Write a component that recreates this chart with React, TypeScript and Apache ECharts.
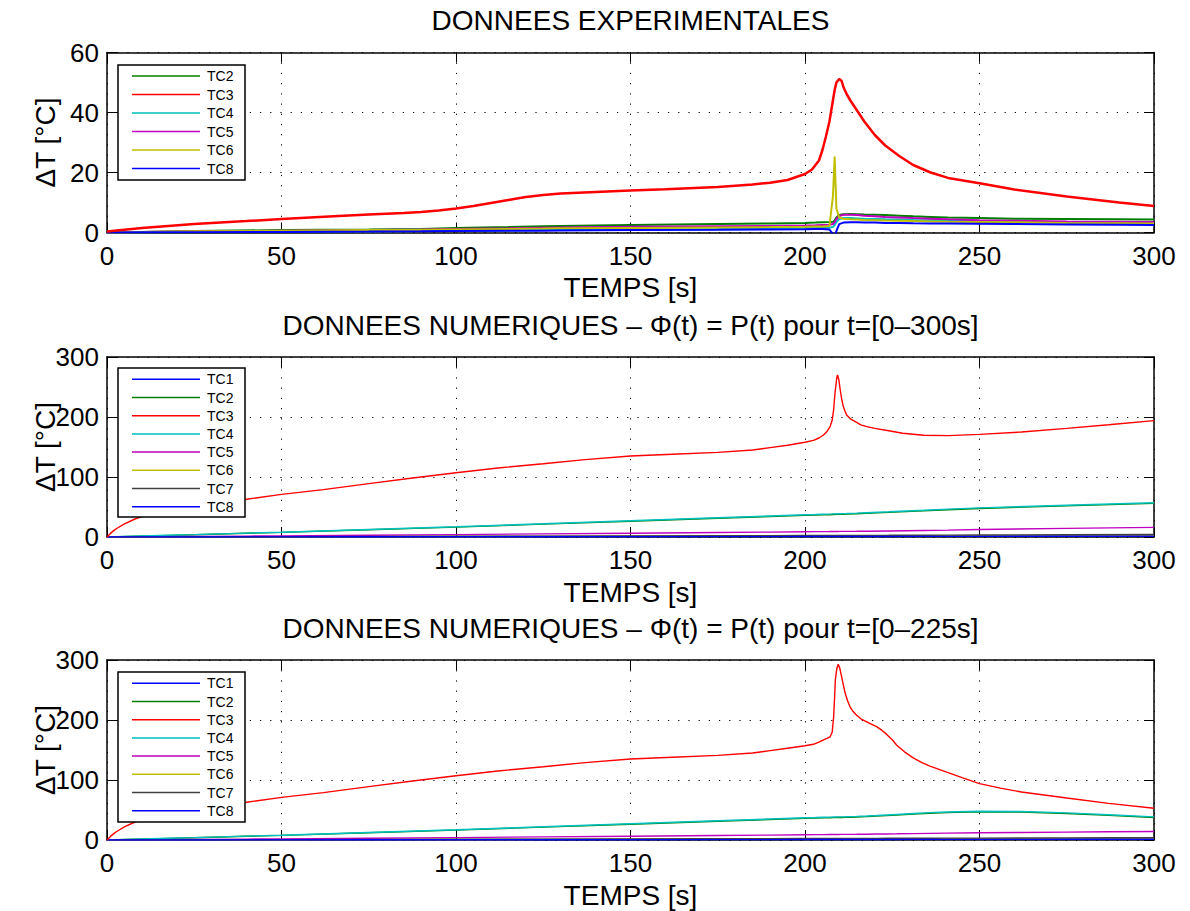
import React, { useEffect, useRef } from "react";
import * as echarts from "echarts";

// ---------------- DATA ----------------
const TITLES = [
  "DONNEES EXPERIMENTALES",
  "DONNEES NUMERIQUES – Φ(t) = P(t) pour t=[0–300s]",
  "DONNEES NUMERIQUES – Φ(t) = P(t) pour t=[0–225s]",
];
const X_TICKS = [0, 50, 100, 150, 200, 250, 300];

// Panel 1: experimental
const T1 = [0, 10, 25, 50, 75, 90, 100, 115, 125, 130, 150, 175, 190, 200, 203, 205, 207, 208, 208.5, 209, 209.8, 211, 213, 215, 217, 220, 223, 227, 231, 236, 241, 250, 260, 275, 290, 300];
const EXP_TC2 = [0, 0.2, 0.5, 0.8, 1.0, 1.2, 1.5, 1.8, 2.1, 2.2, 2.5, 2.8, 3.0, 3.2, 3.3, 3.4, 3.5, 3.6, 4.0, 5.0, 5.8, 6.1, 6.2, 6.1, 6.0, 5.9, 5.8, 5.6, 5.4, 5.2, 5.0, 4.8, 4.6, 4.5, 4.4, 4.3];
const T1_TC3 = [0, 10, 25, 40, 50, 65, 75, 85, 90, 95, 100, 105, 110, 115, 120, 125, 130, 140, 150, 160, 175, 185, 190, 195, 200, 202, 204, 205, 206, 207, 208, 208.5, 209, 209.8, 210.5, 211, 212, 213, 215, 217, 220, 223, 227, 231, 236, 241, 250, 260, 275, 290, 300];
const EXP_TC3 = [0.3, 1.5, 2.8, 3.8, 4.5, 5.4, 6.0, 6.5, 6.8, 7.3, 8.0, 8.8, 9.8, 10.8, 11.8, 12.5, 13.0, 13.5, 14.0, 14.4, 15.2, 16.0, 16.6, 17.5, 19.5, 21, 24, 27.5, 32, 37, 44, 47.5, 50, 51.2, 50.5, 48.5, 46, 44, 40.5, 37, 32.5, 29, 25.5, 22.5, 20, 18.2, 16.4, 14.3, 12, 10, 8.8];
const EXP_TC4 = [0, 0.1, 0.2, 0.3, 0.4, 0.5, 0.6, 0.7, 0.8, 0.8, 0.9, 1.1, 1.2, 1.4, 1.5, 1.5, 1.6, 1.8, 2.5, 3.5, 4.5, 4.8, 4.8, 4.7, 4.6, 4.5, 4.4, 4.3, 4.2, 4.1, 4.0, 3.8, 3.6, 3.4, 3.3, 3.2];
const EXP_TC5 = [0, 0.2, 0.4, 0.6, 0.8, 1.0, 1.2, 1.4, 1.6, 1.7, 1.9, 2.1, 2.2, 2.3, 2.4, 2.5, 2.6, 2.8, 3.5, 4.5, 5.5, 5.9, 5.9, 5.8, 5.6, 5.4, 5.2, 5.0, 4.8, 4.6, 4.4, 4.1, 3.9, 3.7, 3.6, 3.5];
const EXP_TC6 = [0, 0.2, 0.4, 0.6, 0.8, 0.9, 1.0, 1.2, 1.3, 1.4, 1.5, 1.7, 1.8, 1.9, 2.0, 2.0, 2.2, 12, 25.3, 8, 5.0, 4.6, 4.4, 4.3, 4.2, 4.1, 4.0, 3.9, 3.8, 3.7, 3.6, 3.5, 3.4, 3.2, 3.1, 3.0];
const EXP_TC8 = [0, 0.05, 0.1, 0.2, 0.3, 0.4, 0.5, 0.6, 0.6, 0.7, 0.8, 0.9, 1.0, 1.1, 1.2, 1.2, 1.0, -0.5, -1.5, 0.5, 2.8, 3.3, 3.4, 3.4, 3.3, 3.3, 3.2, 3.2, 3.1, 3.0, 3.0, 2.9, 2.8, 2.7, 2.6, 2.5];

// Panel 2: numerical, flux 0-300 s
const T2 = [0, 3, 8, 15, 25, 40, 50, 75, 100, 125, 150, 175, 190, 200, 203, 205, 207, 208.2, 209.3, 210.1, 211, 212, 214.8, 217.7, 224, 234, 241, 250, 275, 300];
const N2_TC1 = [0, 0, 0.1, 0.1, 0.2, 0.3, 0.3, 0.5, 0.6, 0.8, 0.9, 1.0, 1.1, 1.2, 1.2, 1.2, 1.2, 1.2, 1.2, 1.2, 1.2, 1.3, 1.3, 1.3, 1.3, 1.4, 1.4, 1.5, 1.6, 1.8];
const N2_TC2 = [0, 0.4, 1.2, 2.3, 3.8, 6.2, 7.7, 12.1, 16.5, 21.4, 26.3, 31.2, 34.1, 36.0, 36.5, 37.0, 37.2, 37.5, 37.7, 37.8, 38.0, 38.2, 38.8, 39.5, 41.0, 43.5, 45.5, 47.5, 52.0, 56.0];
const T2_TC3 = [0, 1, 2, 3, 5, 8, 11, 15, 20, 25, 32, 40, 50, 62, 75, 87, 100, 112, 125, 137, 150, 162, 175, 185, 190, 195, 200, 202.4, 204, 205.3, 206.3, 207.2, 207.8, 208.2, 208.6, 209.1, 209.3, 209.7, 210.1, 210.5, 211, 211.5, 212, 213, 214.8, 216, 217.7, 220, 224, 228, 234, 241, 250, 262, 275, 287, 300];
const N2_TC3 = [0, 6, 11, 15, 22, 30, 36, 41, 46, 50, 55, 63, 71, 79, 89, 98, 107, 115, 122, 129, 135, 138, 141, 145, 149, 153, 158, 161, 165, 170, 176, 184, 195, 212, 240, 265, 270, 262, 245, 230, 217, 209, 203, 197, 191, 187, 184, 181, 177, 173, 169.5, 169, 171, 175, 181, 187, 194];
const N2_TC4 = [0, 0.5, 1.3, 2.5, 4, 6.5, 8, 12.5, 17, 22, 27, 32, 35, 37, 37.5, 38, 38.2, 38.5, 38.7, 38.8, 39, 39.2, 39.8, 40.5, 42, 44.5, 46.5, 48.5, 53, 57];
const N2_TC5 = [0, 0.1, 0.3, 0.5, 0.9, 1.5, 1.9, 2.9, 4, 5.2, 6.3, 7.5, 8.2, 8.8, 8.9, 9.0, 9.1, 9.2, 9.2, 9.3, 9.3, 9.4, 9.5, 9.7, 10.1, 10.8, 11.4, 12.5, 14.3, 16];
const N2_TC6 = [0, 0, 0.1, 0.1, 0.2, 0.3, 0.4, 0.6, 0.8, 1.0, 1.2, 1.4, 1.5, 1.6, 1.6, 1.6, 1.6, 1.7, 1.7, 1.7, 1.7, 1.7, 1.8, 1.8, 1.9, 2.0, 2.1, 2.2, 2.5, 2.8];
const N2_TC7 = [0, 0, 0.1, 0.2, 0.3, 0.5, 0.6, 0.9, 1.2, 1.5, 1.8, 2.1, 2.3, 2.4, 2.4, 2.5, 2.5, 2.5, 2.5, 2.5, 2.5, 2.6, 2.6, 2.7, 2.8, 3.0, 3.1, 3.3, 3.7, 4.2];
const N2_TC8 = [0, 0, 0, 0.1, 0.1, 0.2, 0.2, 0.3, 0.4, 0.5, 0.6, 0.7, 0.7, 0.8, 0.8, 0.8, 0.8, 0.8, 0.8, 0.8, 0.8, 0.8, 0.9, 0.9, 0.9, 1.0, 1.0, 1.1, 1.2, 1.4];

// Panel 3: numerical, flux 0-225 s
const T3 = [0, 3, 8, 15, 25, 40, 50, 75, 100, 125, 150, 175, 190, 200, 203, 205.3, 207.2, 208.2, 208.7, 209.5, 210.5, 211.5, 212.9, 214.8, 217.7, 220.5, 223.4, 226.3, 231, 235.8, 240.6, 250, 262, 275, 287, 300];
const N3_TC1 = [0, 0, 0.1, 0.1, 0.2, 0.3, 0.3, 0.5, 0.6, 0.8, 0.9, 1.0, 1.1, 1.2, 1.2, 1.2, 1.2, 1.2, 1.2, 1.2, 1.2, 1.2, 1.2, 1.3, 1.3, 1.3, 1.3, 1.3, 1.4, 1.4, 1.4, 1.5, 1.5, 1.6, 1.6, 1.7];
const N3_TC2 = [0, 0.4, 1.2, 2.3, 3.8, 6.2, 7.7, 12.1, 16.5, 21.4, 26.3, 31.2, 34.1, 36.0, 36.4, 36.8, 37.1, 37.3, 37.4, 37.5, 37.6, 37.7, 37.9, 38.3, 39.0, 39.8, 40.7, 41.6, 43.2, 44.6, 45.6, 46.8, 46.4, 44.2, 41.0, 37.5];
const T3_TC3 = [0, 1, 2, 3, 5, 8, 11, 15, 20, 25, 32, 40, 50, 62, 75, 87, 100, 112, 125, 137, 150, 162, 175, 185, 190, 195, 200, 202.4, 204, 205.3, 206.3, 207.2, 207.8, 208.2, 208.5, 208.7, 209.1, 209.5, 209.9, 210.5, 211, 211.5, 212.2, 212.9, 213.8, 214.8, 216, 217.7, 219, 220.5, 222, 223.4, 225, 226.3, 228.5, 231, 233.5, 235.8, 240.6, 245, 250, 256, 262, 275, 287, 300];
const N3_TC3 = [0, 6, 11, 15, 22, 30, 36, 41, 46, 50, 55, 63, 71, 79, 89, 98, 107, 115, 122, 129, 135, 138, 141, 145, 149, 153, 157, 159.5, 163, 167, 169.5, 172, 180, 205, 240, 267, 285, 293, 288, 272, 258, 245, 232, 222, 214, 208, 202, 197, 193, 189, 183, 176, 167, 158, 147, 137, 129, 123, 113, 104, 94, 86.5, 80, 70, 61, 53];
const N3_TC4 = [0, 0.5, 1.3, 2.5, 4, 6.5, 8, 12.5, 17, 22, 27, 32, 35, 37, 37.4, 37.8, 38.1, 38.3, 38.4, 38.5, 38.6, 38.7, 38.9, 39.3, 40.0, 40.8, 41.7, 42.6, 44.2, 45.6, 46.6, 47.8, 47.4, 45.2, 42.0, 38.5];
const N3_TC5 = [0, 0.1, 0.3, 0.5, 0.9, 1.5, 1.9, 2.9, 4, 5.2, 6.3, 7.5, 8.2, 8.8, 8.9, 9.0, 9.1, 9.1, 9.2, 9.2, 9.3, 9.3, 9.4, 9.5, 9.7, 9.9, 10.1, 10.3, 10.7, 11.1, 11.5, 12.0, 12.6, 13.2, 13.7, 14.1];
const N3_TC6 = [0, 0, 0.1, 0.1, 0.2, 0.3, 0.4, 0.6, 0.8, 1.0, 1.2, 1.4, 1.5, 1.6, 1.6, 1.6, 1.6, 1.7, 1.7, 1.7, 1.7, 1.7, 1.7, 1.8, 1.8, 1.8, 1.9, 1.9, 2.0, 2.1, 2.1, 2.2, 2.3, 2.4, 2.5, 2.6];
const N3_TC7 = [0, 0, 0.1, 0.2, 0.3, 0.5, 0.6, 0.9, 1.2, 1.5, 1.8, 2.1, 2.3, 2.4, 2.4, 2.5, 2.5, 2.5, 2.5, 2.5, 2.5, 2.5, 2.6, 2.6, 2.7, 2.7, 2.8, 2.8, 2.9, 3.0, 3.1, 3.2, 3.4, 3.6, 3.8, 4.0];
const N3_TC8 = [0, 0, 0, 0.1, 0.1, 0.2, 0.2, 0.3, 0.4, 0.5, 0.6, 0.7, 0.7, 0.8, 0.8, 0.8, 0.8, 0.8, 0.8, 0.8, 0.8, 0.8, 0.8, 0.9, 0.9, 0.9, 0.9, 0.9, 1.0, 1.0, 1.0, 1.1, 1.1, 1.2, 1.3, 1.3];

// ---------------- STYLE ----------------
const FONT = "Liberation Sans, Arial, Helvetica, sans-serif";
const COLORS: Record<string, string> = {
  TC1: "#0000ff",
  TC2: "#008000",
  TC3: "#ff0000",
  TC4: "#00bfbf",
  TC5: "#bf00bf",
  TC6: "#bfbf00",
  TC7: "#404040",
  TC8: "#0000ff",
};
const GRIDS = [
  { left: 107, top: 52.5, width: 1047, height: 180 },
  { left: 107, top: 357, width: 1047, height: 180 },
  { left: 107, top: 660, width: 1047, height: 180 },
];
const YMAX = [60, 300, 300];
const YINT = [20, 100, 100];
const TITLE_Y = [20, 325, 628];
const LEGEND_BOX = [
  { x: 118, y: 65, h: 115, first: 76, step: 18.5 },
  { x: 118, y: 368, h: 149, first: 379.3, step: 18.2 },
  { x: 118, y: 672, h: 150, first: 683.3, step: 18.2 },
];

type S = { name: string; t: number[]; v: number[] };
const PANELS: S[][] = [
  [
    { name: "TC2", t: T1, v: EXP_TC2 },
    { name: "TC3", t: T1_TC3, v: EXP_TC3 },
    { name: "TC4", t: T1, v: EXP_TC4 },
    { name: "TC5", t: T1, v: EXP_TC5 },
    { name: "TC6", t: T1, v: EXP_TC6 },
    { name: "TC8", t: T1, v: EXP_TC8 },
  ],
  [
    { name: "TC1", t: T2, v: N2_TC1 },
    { name: "TC2", t: T2, v: N2_TC2 },
    { name: "TC3", t: T2_TC3, v: N2_TC3 },
    { name: "TC4", t: T2, v: N2_TC4 },
    { name: "TC5", t: T2, v: N2_TC5 },
    { name: "TC6", t: T2, v: N2_TC6 },
    { name: "TC7", t: T2, v: N2_TC7 },
    { name: "TC8", t: T2, v: N2_TC8 },
  ],
  [
    { name: "TC1", t: T3, v: N3_TC1 },
    { name: "TC2", t: T3, v: N3_TC2 },
    { name: "TC3", t: T3_TC3, v: N3_TC3 },
    { name: "TC4", t: T3, v: N3_TC4 },
    { name: "TC5", t: T3, v: N3_TC5 },
    { name: "TC6", t: T3, v: N3_TC6 },
    { name: "TC7", t: T3, v: N3_TC7 },
    { name: "TC8", t: T3, v: N3_TC8 },
  ],
];

export default function App() {
  const ref = useRef<HTMLDivElement>(null);
  useEffect(() => {
    if (!ref.current) return;
    const chart = echarts.init(ref.current, undefined, { renderer: "svg" });
    const grid = GRIDS.map((g) => ({ ...g, containLabel: false }));
    const splitLine = { show: true, lineStyle: { color: "#000", type: [1.2, 9] as any, width: 1 } };
    const tick = { show: true, inside: true, length: 10, lineStyle: { color: "#000", width: 1 } };
    const axLine = { show: true, onZero: false, lineStyle: { color: "#000", width: 1.5 } };
    const xAxis: any[] = [];
    const yAxis: any[] = [];
    GRIDS.forEach((_, i) => {
      xAxis.push({
        type: "value", gridIndex: i, min: X_TICKS[0], max: X_TICKS[X_TICKS.length - 1], interval: X_TICKS[1] - X_TICKS[0],
        position: "bottom", axisLine: axLine, axisTick: tick, splitLine,
        axisLabel: { color: "#000", fontSize: 26, fontFamily: FONT, margin: 10 },
        name: "TEMPS [s]", nameLocation: "middle", nameGap: 41,
        nameTextStyle: { color: "#000", fontSize: 28, fontFamily: FONT },
      });
      yAxis.push({
        type: "value", gridIndex: i, min: 0, max: YMAX[i], interval: YINT[i],
        position: "left", axisLine: axLine, axisTick: tick, splitLine,
        axisLabel: { color: "#000", fontSize: 26, fontFamily: FONT, margin: 8 },
        name: "ΔT [°C]", nameLocation: "middle", nameGap: 48, nameMoveOverlap: false,
        nameTextStyle: { color: "#000", fontSize: 28, fontFamily: FONT },
      });
    });
    GRIDS.forEach((_, i) => {
      xAxis.push({
        type: "value", gridIndex: i, min: X_TICKS[0], max: X_TICKS[X_TICKS.length - 1], interval: X_TICKS[1] - X_TICKS[0],
        position: "top", axisLine: axLine, axisTick: tick, splitLine: { show: false }, axisLabel: { show: false },
      });
      yAxis.push({
        type: "value", gridIndex: i, min: 0, max: YMAX[i], interval: YINT[i],
        position: "right", axisLine: axLine, axisTick: tick, splitLine: { show: false }, axisLabel: { show: false },
      });
    });

    const series: any[] = [];
    PANELS.forEach((p, i) => {
      p.forEach((s) => {
        series.push({
          type: "line", name: s.name, xAxisIndex: i, yAxisIndex: i,
          data: s.t.map((t, k) => [t, s.v[k]]),
          symbol: "none", showSymbol: false,
          lineStyle: { color: COLORS[s.name], width: i === 0 ? (s.name === "TC3" ? 2.5 : 2) : 1.4 },
          itemStyle: { color: COLORS[s.name] },
          z: s.name === "TC3" ? 3 : 2,
        });
      });
    });

    const graphic: any[] = [];
    TITLES.forEach((t, i) => {
      graphic.push({
        type: "text", x: GRIDS[i].left + GRIDS[i].width / 2, y: TITLE_Y[i], z: 100,
        style: { text: t, fill: "#000", fontSize: 28, fontFamily: FONT, align: "center", verticalAlign: "middle", textAlign: "center", textVerticalAlign: "middle" },
      });
    });
    PANELS.forEach((p, i) => {
      const b = LEGEND_BOX[i];
      graphic.push({
        type: "rect", shape: { x: b.x, y: b.y, width: 127, height: b.h }, z: 100,
        style: { fill: "#fff", stroke: "#000", lineWidth: 1.5 },
      });
      p.forEach((s, k) => {
        const y = b.first + k * b.step;
        graphic.push({
          type: "line", shape: { x1: 132, y1: y, x2: 200, y2: y }, z: 101,
          style: { stroke: COLORS[s.name], lineWidth: 1.5 },
        });
        graphic.push({
          type: "text", x: 207, y, z: 101,
          style: { text: s.name, fill: "#000", fontSize: 14, fontFamily: FONT, verticalAlign: "middle", textVerticalAlign: "middle" },
        });
      });
    });

    chart.setOption({
      animation: false,
      backgroundColor: "#fff",
      grid, xAxis, yAxis, series, graphic,
    });
    return () => chart.dispose();
  }, []);
  return <div ref={ref} style={{ position: "fixed", left: 0, top: 0, width: 1190, height: 911, background: "#fff" }} />;
}
